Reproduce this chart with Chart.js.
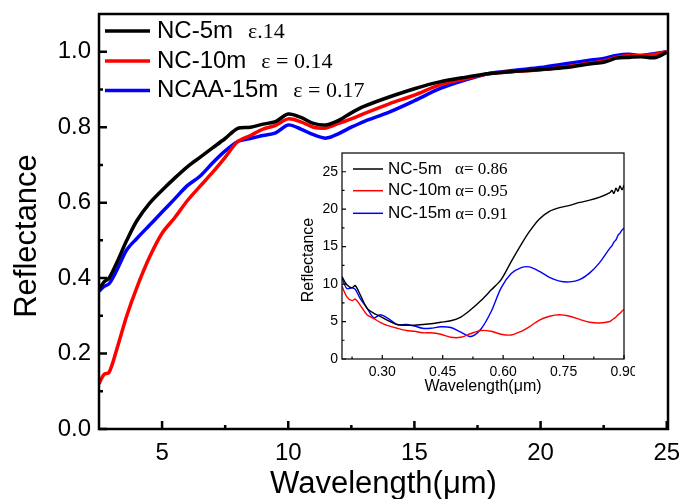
<!DOCTYPE html>
<html>
<head>
<meta charset="utf-8">
<script src="https://cdn.jsdelivr.net/npm/chart.js@4.4.1/dist/chart.umd.min.js"></script>
<style>
    html, body { margin: 0; padding: 0; background: #fff; }
    #wrap { position: relative; width: 681px; height: 499px; overflow: hidden; }
    #main { position: absolute; left: 0; top: 0; }
    #inset { position: absolute; left: 295px; top: 145px; }
</style>
</head>
<body>
<div id="wrap">
    <canvas id="main" width="681" height="499"></canvas>
    <canvas id="inset" width="340" height="250"></canvas>
</div>
<script>
const SANS = '"Liberation Sans", Arial, sans-serif';
const SERIF = '"Liberation Serif", "Times New Roman", serif';

// main plot (IR reflectance)
const wavelength = [2.5, 2.7, 2.9, 3.2, 3.6, 4.0, 4.5, 5.0, 5.5, 6.0, 6.5, 7.0, 7.5, 8.0, 8.5, 9.0, 9.5, 10.0, 10.5, 11.0, 11.5, 12.0, 12.5, 13.0, 14.0, 15.0, 16.0, 17.0, 18.0, 19.0, 20.0, 21.0, 22.0, 22.5, 23.0, 23.5, 24.0, 24.5, 25.0];
const refl5m  = [0.37, 0.39, 0.40, 0.44, 0.50, 0.552, 0.598, 0.633, 0.665, 0.695, 0.72, 0.745, 0.77, 0.797, 0.80, 0.808, 0.815, 0.835, 0.826, 0.81, 0.806, 0.818, 0.838, 0.855, 0.88, 0.902, 0.92, 0.932, 0.942, 0.948, 0.953, 0.958, 0.968, 0.972, 0.983, 0.985, 0.987, 0.984, 0.998];
const refl10m = [0.12, 0.145, 0.15, 0.21, 0.30, 0.375, 0.455, 0.519, 0.56, 0.605, 0.643, 0.68, 0.72, 0.762, 0.778, 0.795, 0.805, 0.822, 0.814, 0.80, 0.798, 0.81, 0.822, 0.836, 0.862, 0.885, 0.912, 0.928, 0.942, 0.948, 0.952, 0.96, 0.97, 0.975, 0.985, 0.99, 0.99, 0.993, 1.0];
const refl15m = [0.365, 0.378, 0.385, 0.42, 0.475, 0.505, 0.54, 0.575, 0.61, 0.645, 0.67, 0.705, 0.737, 0.762, 0.77, 0.778, 0.785, 0.806, 0.795, 0.78, 0.771, 0.783, 0.80, 0.815, 0.84, 0.87, 0.902, 0.925, 0.943, 0.951, 0.958, 0.968, 0.978, 0.982, 0.99, 0.993, 0.99, 0.995, 1.0];
const mainNames = ['NC-5m', 'NC-10m', 'NCAA-15m'];
const mainNotes = ['\u03b5.14', '\u03b5 = 0.14', '\u03b5 = 0.17'];
const mainXTicks = [5, 10, 15, 20, 25];
const mainXMinor = [7.5, 12.5, 17.5, 22.5];
const mainYTicks = [0, 0.2, 0.4, 0.6, 0.8, 1.0];
const mainYMinor = [0.1, 0.3, 0.5, 0.7, 0.9];

// inset (UV-vis reflectance, %)
const insetWavelength = [0.2, 0.212, 0.225, 0.233, 0.245, 0.262, 0.279, 0.295, 0.312, 0.337, 0.36, 0.38, 0.40, 0.42, 0.445, 0.47, 0.495, 0.52, 0.545, 0.57, 0.595, 0.62, 0.645, 0.665, 0.69, 0.715, 0.74, 0.765, 0.79, 0.815, 0.84, 0.865, 0.87, 0.875, 0.88, 0.885, 0.89, 0.895, 0.9];
const insetR5  = [11.0, 9.9, 9.5, 9.8, 8.6, 6.8, 6.1, 5.7, 5.2, 4.6, 4.5, 4.5, 4.6, 4.7, 4.9, 5.1, 5.6, 6.6, 7.8, 9.2, 10.6, 13.0, 15.3, 17.0, 18.7, 19.7, 20.2, 20.5, 20.9, 21.2, 21.6, 22.2, 22.5, 22.1, 22.8, 22.4, 23.1, 22.6, 23.2];
const insetR10 = [9.7, 8.3, 7.8, 8.0, 7.2, 5.9, 5.4, 4.9, 4.5, 4.1, 3.8, 3.7, 3.5, 3.5, 3.3, 2.9, 2.9, 3.4, 3.8, 3.7, 3.3, 3.2, 3.7, 4.3, 5.2, 5.7, 5.9, 5.7, 5.3, 4.9, 4.8, 5.0, 5.2, 5.4, 5.6, 5.9, 6.1, 6.4, 6.6];
const insetR15 = [10.8, 9.4, 9.5, 9.3, 8.1, 6.8, 5.5, 5.9, 5.5, 4.6, 4.6, 4.4, 4.1, 4.1, 4.3, 4.2, 3.6, 3.0, 4.0, 6.3, 9.5, 11.4, 12.2, 12.3, 11.7, 10.9, 10.4, 10.3, 10.6, 11.5, 12.9, 14.8, 15.1, 15.6, 15.9, 16.5, 16.8, 17.2, 17.5];
const insetNames = ['NC-5m', 'NC-10m', 'NC-15m'];
const insetNotes = ['\u03b1= 0.86', '\u03b1= 0.95', '\u03b1= 0.91'];
const insetXTicks = [0.3, 0.45, 0.6, 0.75, 0.9];
const insetXMinor = [0.225, 0.375, 0.525, 0.675, 0.825];
const insetYTicks = [0, 5, 10, 15, 20, 25];
const insetYMinor = [2.5, 7.5, 12.5, 17.5, 22.5];

const colors = ['#000000', '#ff0000', '#0000ff'];

function toPoints(xs, ys) {
    return xs.map((x, i) => ({ x: x, y: ys[i] }));
}

// frame, inward ticks, legend and axis titles
function framePlugin(o) {
    return {
        id: 'frame',
        afterDraw(chart) {
            const ctx = chart.ctx;
            const a = chart.chartArea;
            const x = chart.scales.x, y = chart.scales.y;
            ctx.save();
            ctx.strokeStyle = '#000';
            ctx.lineWidth = o.frameLw;
            ctx.strokeRect(a.left, a.top, a.right - a.left, a.bottom - a.top);

            ctx.beginPath();
            o.xMajor.forEach(v => { const p = x.getPixelForValue(v); ctx.moveTo(p, a.bottom); ctx.lineTo(p, a.bottom - o.major); });
            o.xMinor.forEach(v => { const p = x.getPixelForValue(v); ctx.moveTo(p, a.bottom); ctx.lineTo(p, a.bottom - o.minor); });
            o.yMajor.forEach(v => { const p = y.getPixelForValue(v); ctx.moveTo(a.left, p); ctx.lineTo(a.left + o.major, p); });
            o.yMinor.forEach(v => { const p = y.getPixelForValue(v); ctx.moveTo(a.left, p); ctx.lineTo(a.left + o.minor, p); });
            ctx.stroke();

            // legend
            o.names.forEach((name, i) => {
                const ry = o.legRows[i];
                ctx.strokeStyle = colors[i];
                ctx.lineWidth = o.legLw;
                ctx.beginPath();
                ctx.moveTo(o.legX0, ry);
                ctx.lineTo(o.legX1, ry);
                ctx.stroke();
                ctx.fillStyle = '#000';
                ctx.textBaseline = 'middle';
                ctx.textAlign = 'left';
                ctx.font = o.legFont + 'px ' + SANS;
                ctx.fillText(name, o.legText, ry);
                const w = ctx.measureText(name).width;
                ctx.font = o.noteFont + 'px ' + SERIF;
                ctx.fillText(o.notes[i], Math.max(o.legText + w + o.noteGap, o.noteMin), ry + 1);
            });

            // axis titles
            ctx.fillStyle = '#000';
            ctx.font = o.titleFont + 'px ' + SANS;
            ctx.textAlign = 'center';
            ctx.textBaseline = 'alphabetic';
            ctx.fillText('Wavelength(\u03bcm)', (a.left + a.right) / 2, o.xTitleY);
            ctx.translate(o.yTitleX, o.yTitleY);
            ctx.rotate(-Math.PI / 2);
            ctx.textBaseline = 'middle';
            ctx.fillText('Reflectance', 0, 0);
            ctx.restore();
        }
    };
}

function fixedTicks(values) {
    return function (scale) { scale.ticks = values.map(v => ({ value: v })); };
}

function fitScale(size) {
    return function (s) {
        if (s.isHorizontal()) s.height = size; else s.width = size;
        s.paddingTop = 0; s.paddingBottom = 0; s.paddingLeft = 0; s.paddingRight = 0;
    };
}

Chart.defaults.font.family = SANS;
Chart.defaults.color = '#000';

new Chart(document.getElementById('main'), {
    type: 'line',
    data: {
        datasets: [refl5m, refl10m, refl15m].map((d, i) => ({
            label: mainNames[i],
            data: toPoints(wavelength, d),
            borderColor: colors[i],
            borderWidth: 3.5,
            pointRadius: 0,
            tension: 0.3
        }))
    },
    options: {
        responsive: false,
        animation: false,
        devicePixelRatio: 1,
        layout: { padding: { top: 14, right: 13, left: 0, bottom: 0 } },
        plugins: { legend: { display: false }, tooltip: { enabled: false } },
        scales: {
            x: {
                type: 'linear', min: 2.5, max: 25.05,
                grid: { display: false, drawTicks: false }, border: { display: false },
                afterBuildTicks: fixedTicks(mainXTicks),
                afterFit: fitScale(70),
                ticks: { font: { size: 24 }, padding: 10, maxRotation: 0, callback: v => String(v) }
            },
            y: {
                type: 'linear', min: 0, max: 1.1,
                grid: { display: false, drawTicks: false }, border: { display: false },
                afterBuildTicks: fixedTicks(mainYTicks),
                afterFit: fitScale(99),
                ticks: { font: { size: 24 }, padding: 8, callback: v => v.toFixed(1) }
            }
        }
    },
    plugins: [framePlugin({
        frameLw: 2.5, major: 8, minor: 4,
        xMajor: mainXTicks, xMinor: mainXMinor, yMajor: mainYTicks, yMinor: mainYMinor,
        names: mainNames, notes: mainNotes,
        legRows: [31, 61, 90.5], legX0: 105, legX1: 150, legText: 157, legLw: 3.5,
        legFont: 24, noteFont: 22, noteGap: 15, noteMin: 0,
        titleFont: 31, xTitleY: 493, yTitleX: 27, yTitleY: 236
    })]
});

new Chart(document.getElementById('inset'), {
    type: 'line',
    data: {
        datasets: [insetR5, insetR10, insetR15].map((d, i) => ({
            label: insetNames[i],
            data: toPoints(insetWavelength, d),
            borderColor: colors[i],
            borderWidth: 1.4,
            pointRadius: 0,
            tension: 0.3
        }))
    },
    options: {
        responsive: false,
        animation: false,
        devicePixelRatio: 1,
        layout: { padding: { top: 8, right: 11, left: 0, bottom: 0 } },
        plugins: { legend: { display: false }, tooltip: { enabled: false } },
        scales: {
            x: {
                type: 'linear', min: 0.2, max: 0.9,
                grid: { display: false, drawTicks: false }, border: { display: false },
                afterBuildTicks: fixedTicks(insetXTicks),
                afterFit: fitScale(36),
                ticks: { font: { size: 14 }, padding: 5, maxRotation: 0, callback: v => v.toFixed(2) }
            },
            y: {
                type: 'linear', min: 0, max: 27.5,
                grid: { display: false, drawTicks: false }, border: { display: false },
                afterBuildTicks: fixedTicks(insetYTicks),
                afterFit: fitScale(47),
                ticks: { font: { size: 14 }, padding: 4, callback: v => String(v) }
            }
        }
    },
    plugins: [{
        id: 'whiteBg',
        beforeDraw(chart) {
            const ctx = chart.ctx;
            ctx.save();
            ctx.fillStyle = '#fff';
            ctx.fillRect(0, 0, chart.width, chart.height);
            ctx.restore();
        }
    }, framePlugin({
        frameLw: 1.2, major: 4, minor: 2.5,
        xMajor: insetXTicks, xMinor: insetXMinor, yMajor: insetYTicks, yMinor: insetYMinor,
        names: insetNames, notes: insetNotes,
        legRows: [24, 45.7, 68.3], legX0: 58, legX1: 88, legText: 93, legLw: 1.5,
        legFont: 17, noteFont: 17, noteGap: 4, noteMin: 160,
        titleFont: 16, xTitleY: 246, yTitleX: 14, yTitleY: 115
    })]
});
</script>
</body>
</html>
